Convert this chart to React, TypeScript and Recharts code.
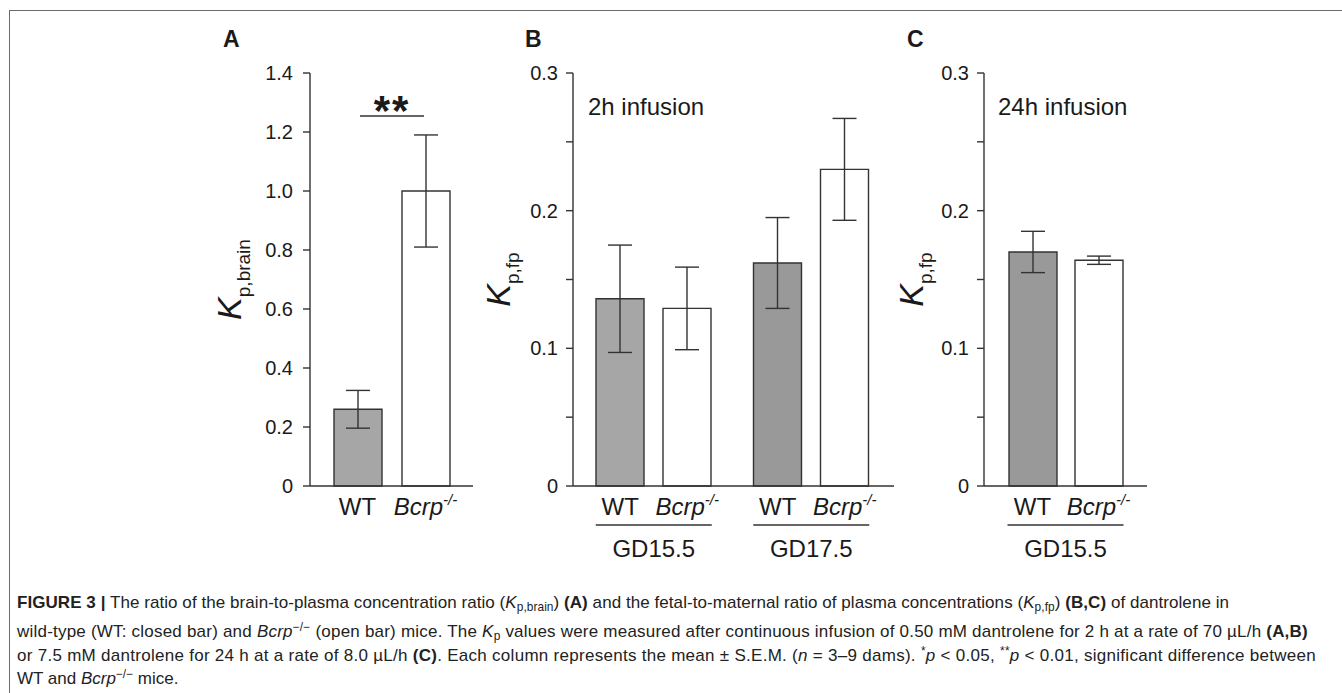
import React from 'react';
import { BarChart, Bar, XAxis, YAxis, ErrorBar, Cell, Label } from 'recharts';

// values (mean and S.E.M.)
const groupsA = [''];
const wtA = [0.26];
const wtSemA = [0.064];
const koA = [1.0];
const koSemA = [0.19];

const groupsB = ['GD15.5', 'GD17.5'];
const wtB = [0.136, 0.162];
const wtSemB = [0.039, 0.033];
const koB = [0.129, 0.23];
const koSemB = [0.03, 0.037];

const groupsC = ['GD15.5'];
const wtC = [0.17];
const wtSemC = [0.015];
const koC = [0.164];
const koSemC = [0.003];

const wtFillA = ['#a6a6a6'];
const wtFillB = ['#a6a6a6', '#999999'];
const wtFillC = ['#999999'];

const ticksA = [0, 0.2, 0.4, 0.6, 0.8, 1.0, 1.2, 1.4];
const ticksBC = [0, 0.05, 0.1, 0.15, 0.2, 0.25, 0.3];

const FONT = "'Liberation Sans', Arial, Helvetica, sans-serif";
const INK = '#333333';
const TEXT = '#1a1a1a';

const build = (groups: string[], wt: number[], wtSem: number[], ko: number[], koSem: number[]) =>
  groups.map((g, i) => ({ group: g, wt: wt[i], wtErr: wtSem[i], ko: ko[i], koErr: koSem[i] }));

const dataA = build(groupsA, wtA, wtSemA, koA, koSemA);
const dataB = build(groupsB, wtB, wtSemB, koB, koSemB);
const dataC = build(groupsC, wtC, wtSemC, koC, koSemC);

const fmtA = (v: number) => (v === 0 ? '0' : v.toFixed(1));
const fmtBC = (v: number) => {
  if (v === 0) return '0';
  return Math.round(v * 100) % 10 === 0 ? v.toFixed(1) : '';
};

const GroupTick = (props: any) => {
  const { x, y, payload, half, showGroup } = props;
  return (
    <g fontFamily={FONT} fill={TEXT}>
      <text x={x - half} y={y + 29} textAnchor="middle" fontSize={24}>WT</text>
      <text x={x + half} y={y + 29} textAnchor="middle" fontSize={24} fontStyle="italic">
        Bcrp<tspan fontSize={15} dy={-10}>-/-</tspan>
      </text>
      {showGroup && (
        <>
          <line x1={x - 58} x2={x + 58} y1={y + 39} y2={y + 39} stroke={INK} strokeWidth={1.4} />
          <text x={x} y={y + 71} textAnchor="middle" fontSize={24}>{payload.value}</text>
        </>
      )}
    </g>
  );
};

const YLabel = (props: any) => {
  const { viewBox, sub, offset } = props;
  const axisX = viewBox.x + viewBox.width;
  const bx = axisX - offset;
  const cy = viewBox.y + viewBox.height / 2;
  return (
    <text
      x={bx}
      y={cy}
      transform={`rotate(-90, ${bx}, ${cy})`}
      textAnchor="middle"
      fontFamily={FONT}
      fill={TEXT}
    >
      <tspan fontSize={34} fontStyle="italic">K</tspan>
      <tspan fontSize={19} dy={9}>{sub}</tspan>
    </text>
  );
};

interface PanelProps {
  data: any[];
  fills: string[];
  width: number;
  yAxisWidth: number;
  marginRight: number;
  domainMax: number;
  ticks: number[];
  fmt: (v: number) => string;
  tickMargin: number;
  sub: string;
  labelOffset: number;
  barGap: number;
  padding: { left: number; right: number };
  showGroup: boolean;
}

const Panel = (p: PanelProps) => (
  <BarChart
    width={p.width}
    height={540}
    data={p.data}
    margin={{ top: 23, right: p.marginRight, bottom: 14, left: 0 }}
    barGap={p.barGap}
    barSize={48}
  >
    <XAxis
      dataKey="group"
      height={90}
      tickSize={0}
      tickMargin={0}
      tickLine={false}
      axisLine={{ stroke: INK, strokeWidth: 1.4 }}
      padding={p.padding}
      interval={0}
      tick={<GroupTick half={(48 + p.barGap) / 2} showGroup={p.showGroup} />}
    />
    <YAxis
      width={p.yAxisWidth}
      domain={[0, p.domainMax]}
      ticks={p.ticks}
      interval={0}
      tickFormatter={p.fmt}
      tickSize={7}
      tickMargin={p.tickMargin}
      axisLine={{ stroke: INK, strokeWidth: 1.4 }}
      tickLine={{ stroke: INK, strokeWidth: 1.4 }}
      tick={{ fill: TEXT, fontSize: 20, fontFamily: FONT }}
    >
      <Label content={(lp: any) => <YLabel viewBox={lp.viewBox} sub={p.sub} offset={p.labelOffset} />} />
    </YAxis>
    <Bar dataKey="wt" stroke={INK} strokeWidth={1.4} isAnimationActive={false}>
      {p.data.map((_, i) => (
        <Cell key={i} fill={p.fills[i]} />
      ))}
      <ErrorBar dataKey="wtErr" width={12} stroke={INK} strokeWidth={1.4} />
    </Bar>
    <Bar dataKey="ko" fill="#ffffff" stroke={INK} strokeWidth={1.4} isAnimationActive={false}>
      <ErrorBar dataKey="koErr" width={12} stroke={INK} strokeWidth={1.4} />
    </Bar>
  </BarChart>
);

const capStyle: React.CSSProperties = {
  position: 'absolute',
  left: 17,
  whiteSpace: 'nowrap',
  fontFamily: "'Liberation Sans', Arial, sans-serif",
  fontSize: 17,
  color: '#222',
  lineHeight: '20px',
};

const Sub = ({ children }: { children: React.ReactNode }) => (
  <sub style={{ fontSize: '70%', verticalAlign: '-0.25em' }}>{children}</sub>
);
const Sup = ({ children }: { children: React.ReactNode }) => (
  <sup style={{ fontSize: '70%', verticalAlign: '0.5em' }}>{children}</sup>
);

export default function App() {
  return (
    <div style={{ position: 'absolute', left: 0, top: 0, width: 1342, height: 693, background: '#fff', overflow: 'hidden' }}>
      <div
        style={{
          position: 'absolute',
          left: 9,
          top: 10,
          right: -5,
          bottom: -5,
          borderTop: '1.5px solid #6b6b6b',
          borderLeft: '1.5px solid #6b6b6b',
        }}
      />
      <div style={{ position: 'absolute', left: 200, top: 50 }}>
        <Panel
          data={dataA}
          fills={wtFillA}
          width={290}
          yAxisWidth={110}
          marginRight={17}
          domainMax={1.4}
          ticks={ticksA}
          fmt={fmtA}
          tickMargin={10}
          sub="p,brain"
          labelOffset={69}
          barGap={20}
          padding={{ left: 0, right: 0 }}
          showGroup={false}
        />
      </div>
      <div style={{ position: 'absolute', left: 470, top: 50 }}>
        <Panel
          data={dataB}
          fills={wtFillB}
          width={434}
          yAxisWidth={103}
          marginRight={10}
          domainMax={0.3}
          ticks={ticksBC}
          fmt={fmtBC}
          tickMargin={8}
          sub="p,fp"
          labelOffset={63}
          barGap={19}
          padding={{ left: 2, right: 4 }}
          showGroup={true}
        />
      </div>
      <div style={{ position: 'absolute', left: 880, top: 50 }}>
        <Panel
          data={dataC}
          fills={wtFillC}
          width={282}
          yAxisWidth={104}
          marginRight={15}
          domainMax={0.3}
          ticks={ticksBC}
          fmt={fmtBC}
          tickMargin={8}
          sub="p,fp"
          labelOffset={61}
          barGap={18}
          padding={{ left: 0, right: 0 }}
          showGroup={true}
        />
      </div>
      <svg width={1342} height={693} style={{ position: 'absolute', left: 0, top: 0, pointerEvents: 'none' }}>
        <g fontFamily={FONT} fill={TEXT}>
          <text x={223} y={47} fontSize={23} fontWeight="bold">A</text>
          <text x={525} y={47} fontSize={23} fontWeight="bold">B</text>
          <text x={907} y={47} fontSize={23} fontWeight="bold">C</text>
          <text x={588} y={115} fontSize={24}>2h infusion</text>
          <text x={998} y={115} fontSize={24}>24h infusion</text>
          <text x={392} y={125} fontSize={42} fontWeight="bold" textAnchor="middle" letterSpacing={2}>**</text>
        </g>
        <line x1={360} x2={424} y1={116} y2={116} stroke={INK} strokeWidth={1.4} />
      </svg>
      <div style={{ ...capStyle, top: 593, letterSpacing: 0.06 }}>
        <b>FIGURE 3 |</b> The ratio of the brain-to-plasma concentration ratio (<i>K</i>
        <Sub>p,brain</Sub>) <b>(A)</b> and the fetal-to-maternal ratio of plasma concentrations (<i>K</i>
        <Sub>p,fp</Sub>) <b>(B,C)</b> of dantrolene in
      </div>
      <div style={{ ...capStyle, top: 617, letterSpacing: 0.21 }}>
        wild-type (WT: closed bar) and <i>Bcrp</i>
        <Sup>−/−</Sup> (open bar) mice. The <i>K</i>
        <Sub>p</Sub> values were measured after continuous infusion of 0.50 mM dantrolene for 2 h at a rate of 70 µL/h{' '}
        <b>(A,B)</b>
      </div>
      <div style={{ ...capStyle, top: 641, letterSpacing: 0.28 }}>
        or 7.5 mM dantrolene for 24 h at a rate of 8.0 µL/h <b>(C)</b>. Each column represents the mean ± S.E.M. (
        <i>n</i> = 3–9 dams). <Sup>*</Sup>
        <i>p</i> &lt; 0.05, <Sup>**</Sup>
        <i>p</i> &lt; 0.01, significant difference between
      </div>
      <div style={{ ...capStyle, top: 664 }}>
        WT and <i>Bcrp</i>
        <Sup>−/−</Sup> mice.
      </div>
    </div>
  );
}
